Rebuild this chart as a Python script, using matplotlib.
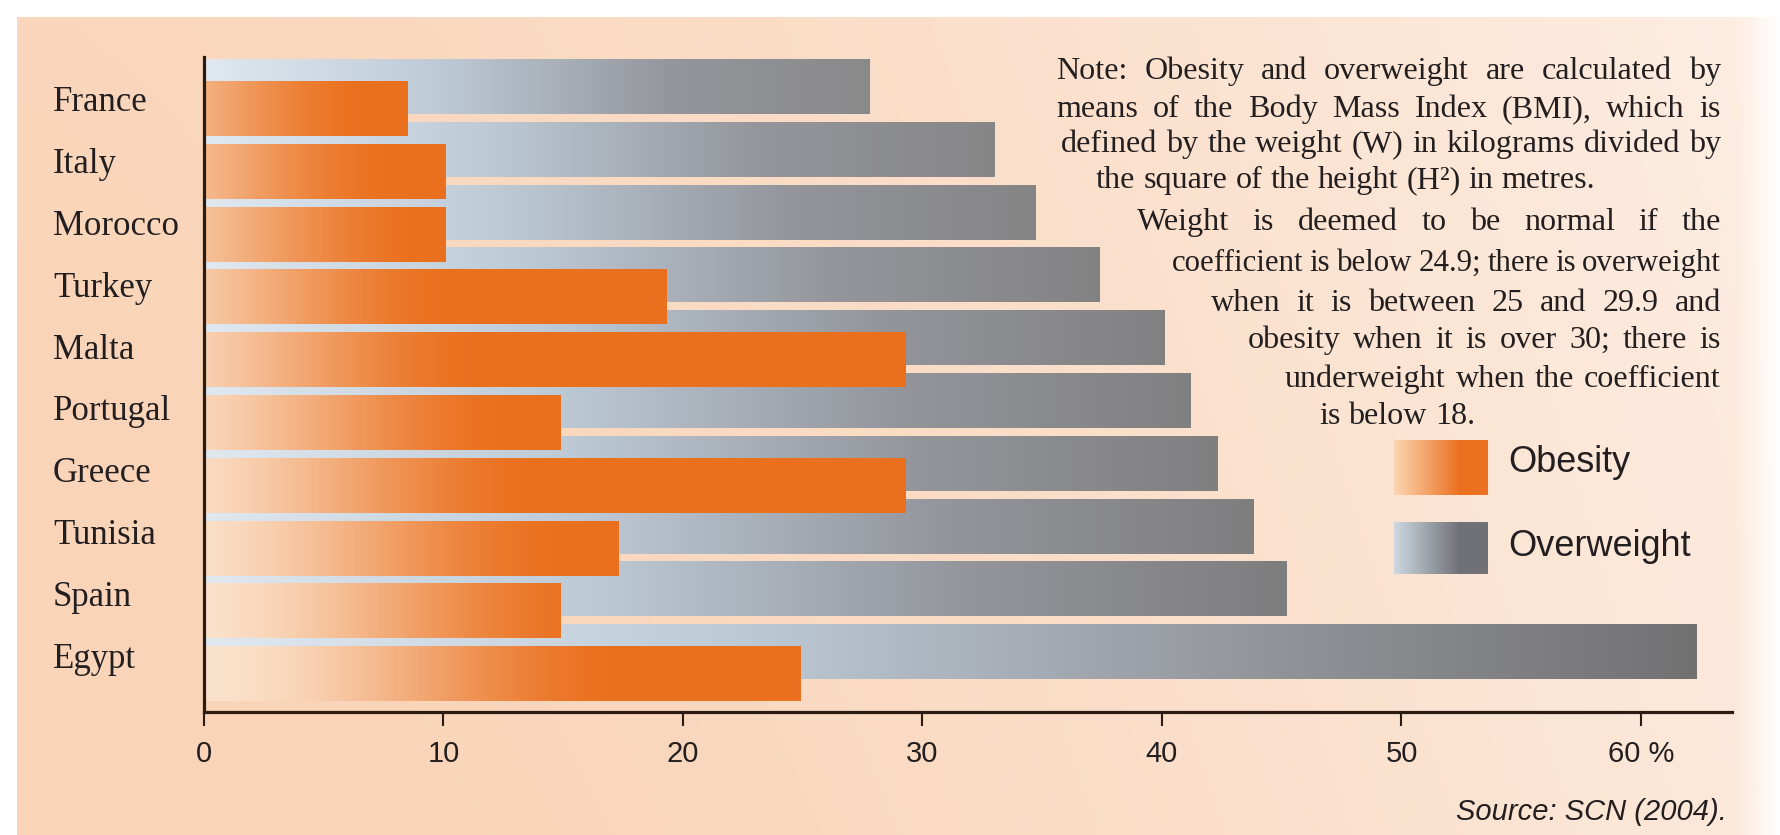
import numpy as np
import matplotlib.pyplot as plt
from matplotlib.transforms import blended_transform_factory

# data (percent of population)
countries = ["France", "Italy", "Morocco", "Turkey", "Malta",
             "Portugal", "Greece", "Tunisia", "Spain", "Egypt"]
obesity = [8.5, 10.1, 10.1, 19.3, 29.3, 14.9, 29.3, 17.3, 14.9, 24.9]
overweight = [27.8, 33.0, 34.7, 37.4, 40.1, 41.2, 42.3, 43.8, 45.2, 62.3]
tick_values = [0, 10, 20, 30, 40, 50, 60]
tick_labels = ["0", "10", "20", "30", "40", "50", "60 %"]
legend_labels = ["Obesity", "Overweight"]
source = "Source: SCN (2004)."
note_lines = [
    "Note: Obesity and overweight are calculated by",
    "means of the Body Mass Index (BMI), which is",
    "defined by the weight (W) in kilograms divided by",
    "the square of the height (H²) in metres.",
    "Weight is deemed to be normal if the",
    "coefficient is below 24.9; there is overweight",
    "when it is between 25 and 29.9 and",
    "obesity when it is over 30; there is",
    "underweight when the coefficient",
    "is below 18.",
]

W, H = 1780, 835
ink = "#231f20"
axis_ink = "#2b1b12"
sans = ["Liberation Sans", "DejaVu Sans"]

fig = plt.figure(figsize=(W / 100, H / 100), dpi=100)
fig.patch.set_facecolor("white")

# peach background panel, lighter towards the top right
bg = fig.add_axes([0, 0, 1, 1], zorder=0)
xx, yy = np.meshgrid(np.arange(W) / W, np.arange(H) / H)
p = np.clip(1.0 - 0.75 * xx ** 1.5 + 0.15 * (yy - 0.5), 0, 1)
peach = np.array([249, 212, 184]) / 255
light = np.array([254, 243, 236]) / 255
img = light + (peach - light) * p[..., None]
fade = np.clip((xx - 0.975) / 0.025, 0, 1)
img = img + (1 - img) * fade[..., None]
img[:17, :, :] = 1
img[:, :17, :] = 1
bg.imshow(img, extent=[0, W, H, 0], aspect="auto", interpolation="bilinear")
bg.set_xlim(0, W)
bg.set_ylim(H, 0)
bg.axis("off")

ax = fig.add_axes([204 / W, 1 - 712 / H, (1732 - 204) / W, (712 - 57) / H], zorder=1)
ax.patch.set_alpha(0)

rows = np.arange(len(countries))
bh = 0.86
off = 0.175
grey_bars = ax.barh(rows - off, overweight, height=bh, color="none", edgecolor="none")
orange_bars = ax.barh(rows + off, obesity, height=bh, color="none", edgecolor="none")


def grey_colors(xs, length):
    t = xs / length
    end = 114 + (62.3 - length) / 34 * 24
    stops_t = [0, 0.35, 0.7, 1.0]
    stops = np.array([[224, 232, 240], [190, 203, 215], [148, 150, 156], [end, end - 1, end]]) / 255
    return np.stack([np.interp(t, stops_t, stops[:, c]) for c in range(3)], axis=1)


def orange_colors(xs, i):
    pale = np.array([251, 226, 204]) / 255
    orange = np.array([234, 112, 30]) / 255
    s0 = 0.45 * (1 - i / 9)
    fade_end = 7 + 1.2 * i
    s = np.clip(s0 + (1 - s0) * xs / fade_end, 0, 1)
    s = s * s * (3 - 2 * s)
    return pale + (orange - pale) * s[:, None]


def fill_bar(bar, rgb, z):
    x0, y0 = bar.get_x(), bar.get_y()
    w, h = bar.get_width(), bar.get_height()
    ax.imshow(rgb[None, :, :], extent=[x0, x0 + w, y0 + h, y0], aspect="auto",
              interpolation="bilinear", zorder=z)


for bar in grey_bars:
    xs = np.linspace(0, bar.get_width(), 300)
    fill_bar(bar, grey_colors(xs, bar.get_width()), 2)
for i, bar in enumerate(orange_bars):
    xs = np.linspace(0, bar.get_width(), 300)
    fill_bar(bar, orange_colors(xs, i), 3)

ax.set_xlim(0, 63.8)
ax.set_ylim(9.777, -0.653)
for side in ["top", "right"]:
    ax.spines[side].set_visible(False)
for side in ["left", "bottom"]:
    ax.spines[side].set_color(axis_ink)
    ax.spines[side].set_linewidth(2.3)
    ax.spines[side].set_zorder(5)
ax.set_yticks([])
ax.set_xticks(tick_values, tick_labels)
ax.tick_params(axis="x", direction="out", length=10, width=1.5, pad=10,
               labelsize=21, colors=axis_ink)
for lbl in ax.get_xticklabels():
    lbl.set_family(sans)
    lbl.set_color(ink)

# country labels
trans = blended_transform_factory(fig.transFigure, ax.transData)
for i, name in enumerate(countries):
    fig.text(53 / W, i + 0.2 - 0.013 * i, name, transform=trans, ha="left",
             va="baseline", fontsize=25, family="Liberation Serif", color=ink)

# note paragraph, justified like the original
renderer = fig.canvas.get_renderer()
lefts = [1056, 1056, 1061, 1096, 1137, 1172, 1211, 1248, 1285, 1319]
bases = [79, 117, 152, 188, 230, 271, 311, 348, 387, 424]
justified = [True, True, True, False, True, True, True, True, True, False]
right = 1721

probe = fig.text(0, 0, note_lines[3], fontsize=20, family="Liberation Serif")
w_probe = probe.get_window_extent(renderer).width
probe.remove()
note_fs = 20 * 498 / w_probe

for text, left, base, just in zip(note_lines, lefts, bases, justified):
    words = text.split(" ")
    fs = note_fs
    while True:
        arts = [fig.text(0, 1 - base / H, wd, fontsize=fs, family="Liberation Serif",
                         color=ink, ha="left", va="baseline") for wd in words]
        widths = [a.get_window_extent(renderer).width for a in arts]
        min_gap = fs * 0.2 * 100 / 72
        if not just or sum(widths) + min_gap * (len(words) - 1) <= right - left:
            break
        for a in arts:
            a.remove()
        fs *= 0.98
    if just and len(words) > 1:
        gap = (right - left - sum(widths)) / (len(words) - 1)
    else:
        gap = fs * 0.25 * 100 / 72
    x = left
    for a, wd in zip(arts, widths):
        a.set_x(x / W)
        x += wd + gap

# legend swatches
swatches = [(1394, 440, 1488, 495), (1394, 522, 1488, 574)]
legend_y = [463, 546]
sw_pale = [np.array([251, 214, 178]), np.array([206, 216, 226])]
sw_full = [np.array([235, 112, 32]), np.array([112, 113, 118])]
for (x0, y0, x1, y1), ly, lab, c0, c1 in zip(swatches, legend_y, legend_labels, sw_pale, sw_full):
    sax = fig.add_axes([x0 / W, 1 - y1 / H, (x1 - x0) / W, (y1 - y0) / H], zorder=2)
    t = np.clip(np.linspace(0, 1, 100) / 0.7, 0, 1)[:, None]
    grad = (c0 + (c1 - c0) * t) / 255
    sax.imshow(grad[None, :, :], aspect="auto", interpolation="bilinear")
    sax.axis("off")
    fig.text(1508 / W, 1 - ly / H, lab, ha="left", va="center", fontsize=26,
             family="Liberation Sans", color=ink)

fig.text(1727 / W, 1 - 820 / H, source, ha="right", va="baseline", fontsize=21,
         style="italic", family=sans, color=ink)

fig.savefig("out.png", dpi=100)
